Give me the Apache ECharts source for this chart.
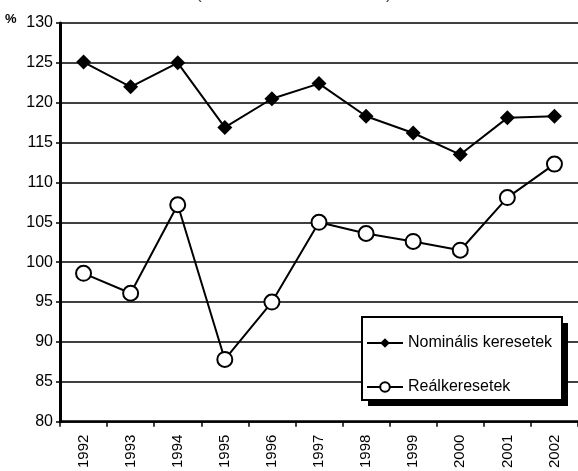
<!DOCTYPE html>
<html>
<head>
<meta charset="utf-8">
<script src="https://cdn.jsdelivr.net/npm/echarts@6/dist/echarts.min.js"></script>
<style>
  html, body { margin: 0; padding: 0; background: #fff; }
  #chart { width: 578px; height: 471px; }
</style>
</head>
<body>
<div id="chart"></div>
<script>
const years = ['1992', '1993', '1994', '1995', '1996', '1997', '1998', '1999', '2000', '2001', '2002'];
const nominal = [125.1, 122.0, 125.0, 116.9, 120.5, 122.4, 118.3, 116.2, 113.5, 118.1, 118.3];
const real = [98.6, 96.1, 107.2, 87.8, 95.0, 105.0, 103.6, 102.6, 101.5, 108.1, 112.3];
const seriesNames = ['Nominális keresetek', 'Reálkeresetek'];

const font = 'Liberation Sans, Arial, sans-serif';
const chart = echarts.init(document.getElementById('chart'), null, { renderer: 'canvas' });

// legend frame with a hard drop shadow, like the old spreadsheet style
const box = { x: 362, y: 317, w: 200, h: 83 };

const option = {
  animation: false,
  backgroundColor: '#fff',
  textStyle: { fontFamily: font, color: '#000' },
  grid: { left: 60, top: 23, width: 523, height: 403 },
  graphic: [
    { type: 'text', left: 5, top: 13, style: { text: '%', font: 'bold 13px ' + font, fill: '#000' } },
    // the title above is cut off, only the bottom of its brackets shows
    { type: 'text', left: 196, top: -14, style: { text: '(', font: '17px ' + font, fill: '#444' } },
    { type: 'text', left: 386, top: -14, style: { text: ')', font: '17px ' + font, fill: '#444' } },
    {
      type: 'rect', z: 50,
      shape: { x: box.x + 6, y: box.y + 6, width: box.w, height: box.h },
      style: { fill: '#000' }
    },
    {
      type: 'rect', z: 51,
      shape: { x: box.x, y: box.y, width: box.w, height: box.h },
      style: { fill: '#fff', stroke: '#000', lineWidth: 2 }
    }
  ],
  xAxis: {
    type: 'category',
    data: years,
    boundaryGap: true,
    axisLine: { lineStyle: { color: '#000', width: 2.5 } },
    axisTick: { show: true, length: 5, lineStyle: { color: '#000', width: 1.5 } },
    axisLabel: { rotate: 90, margin: 13, fontSize: 15, color: '#000', fontFamily: font, interval: 0 },
    splitLine: { show: false }
  },
  yAxis: {
    type: 'value',
    min: 80,
    max: 130,
    interval: 5,
    axisLine: { show: true, lineStyle: { color: '#000', width: 3 } },
    axisTick: { show: true, length: 4, lineStyle: { color: '#000', width: 1.5 } },
    axisLabel: { margin: 7, fontSize: 16, color: '#000', fontFamily: font },
    splitLine: { show: true, lineStyle: { color: '#000', width: 1.5 } }
  },
  legend: {
    orient: 'vertical',
    z: 60,
    left: box.x,
    top: box.y,
    padding: [18, 10, 11, 4],
    itemGap: 28,
    itemWidth: 36,
    itemHeight: 12,
    textStyle: { fontSize: 16, color: '#000', fontFamily: font },
    data: seriesNames
  },
  series: [{
    name: seriesNames[0],
    type: 'line',
    data: nominal,
    symbol: 'diamond',
    symbolSize: 15,
    lineStyle: { color: '#000', width: 2 },
    itemStyle: { color: '#000', borderColor: '#000', borderWidth: 0 }
  }, {
    name: seriesNames[1],
    type: 'line',
    data: real,
    symbol: 'circle',
    symbolSize: 15,
    lineStyle: { color: '#000', width: 2 },
    itemStyle: { color: '#fff', borderColor: '#000', borderWidth: 2 }
  }]
};

chart.setOption(option);
</script>
</body>
</html>
